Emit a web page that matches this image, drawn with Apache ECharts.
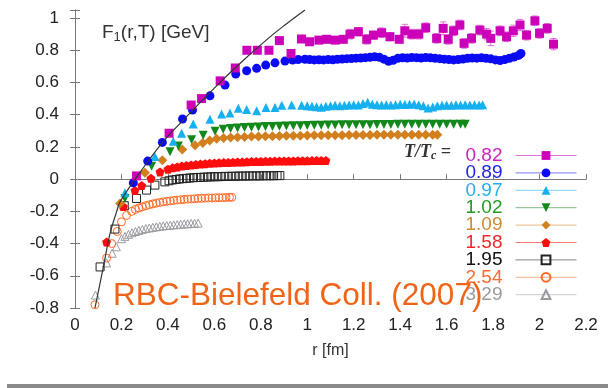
<!DOCTYPE html>
<html><head><meta charset="utf-8">
<script src="https://cdn.jsdelivr.net/npm/echarts@6/dist/echarts.min.js"></script>
<style>html,body{margin:0;padding:0;background:#fff}#c{width:608px;height:388px}</style>
</head><body><div id="c"></div>
<script>
// ---------- data ----------
const legendNames = ['0.82','0.89','0.97','1.02','1.09','1.58','1.95','2.54','3.29'];
const xTicks = [0,0.2,0.4,0.6,0.8,1,1.2,1.4,1.6,1.8,2,2.2];
const yTicks = [-0.8,-0.6,-0.4,-0.2,0,0.2,0.4,0.6,0.8,1];

const r082 = [0.265,0.405,0.50,0.545,0.625,0.69,0.74,0.785,0.835,0.88,0.93,0.975,1.01,1.05,1.083,1.12,1.155,1.184,1.22,1.256,1.285,1.32,1.356,1.396,1.42,1.45,1.48,1.51,1.557,1.585,1.607,1.63,1.657,1.675,1.707,1.743,1.772,1.79,1.83,1.858,1.887,1.916,1.944,1.98,2.0,2.033,2.06];
const F082 = [0.02,0.285,0.46,0.50,0.61,0.69,0.80,0.80,0.80,0.86,0.78,0.87,0.853,0.863,0.868,0.863,0.868,0.90,0.915,0.868,0.894,0.909,0.884,0.868,0.921,0.90,0.90,0.94,0.874,0.936,0.868,0.921,0.957,0.843,0.874,0.925,0.90,0.874,0.921,0.884,0.921,0.957,0.894,0.983,0.905,0.936,0.838];
const E082 = [0.01,0.01,0.01,0.01,0.012,0.012,0.015,0.015,0.015,0.015,0.015,0.02,0.02,0.02,0.02,0.02,0.02,0.03,0.025,0.03,0.025,0.03,0.025,0.02,0.04,0.03,0.03,0.03,0.03,0.04,0.03,0.03,0.03,0.03,0.03,0.03,0.035,0.045,0.03,0.03,0.035,0.035,0.03,0.03,0.03,0.03,0.035];

const r089 = [0.251,0.313,0.376,0.463,0.506,0.581,0.646,0.692,0.739,0.782,0.821,0.861,0.904,0.937,0.961,0.99,1.01,1.03,1.05,1.07,1.09,1.11,1.13,1.15,1.17,1.19,1.21,1.23,1.25,1.27,1.29,1.31,1.33,1.35,1.37,1.39,1.41,1.43,1.45,1.47,1.49,1.51,1.53,1.55,1.57,1.59,1.61,1.63,1.65,1.67,1.69,1.71,1.73,1.75,1.77,1.79,1.81,1.83,1.85,1.87,1.89,1.91,1.92];
const F089 = [-0.023,0.112,0.228,0.373,0.429,0.517,0.584,0.652,0.673,0.688,0.708,0.722,0.733,0.739,0.743,0.744,0.742,0.740,0.741,0.740,0.742,0.741,0.744,0.746,0.748,0.749,0.751,0.752,0.754,0.756,0.760,0.757,0.745,0.732,0.738,0.750,0.753,0.752,0.755,0.754,0.752,0.755,0.753,0.750,0.748,0.745,0.743,0.740,0.742,0.746,0.750,0.752,0.751,0.753,0.750,0.747,0.740,0.736,0.742,0.750,0.758,0.768,0.780];

const r097 = [0.215,0.344,0.423,0.459,0.509,0.581,0.631,0.667,0.703,0.739,0.782,0.822,0.861,0.89,0.933,0.976,1.00,1.02,1.04,1.06,1.08,1.10,1.12,1.14,1.16,1.18,1.20,1.22,1.24,1.26,1.28,1.30,1.32,1.34,1.36,1.38,1.40,1.42,1.44,1.46,1.48,1.50,1.52,1.54,1.56,1.58,1.60,1.62,1.64,1.66,1.68,1.70,1.72,1.74,1.755];
const F097 = [-0.085,0.14,0.235,0.285,0.342,0.372,0.404,0.41,0.44,0.433,0.424,0.445,0.445,0.458,0.46,0.458,0.455,0.452,0.450,0.447,0.452,0.455,0.458,0.456,0.458,0.460,0.462,0.460,0.470,0.478,0.465,0.462,0.460,0.462,0.460,0.462,0.465,0.463,0.465,0.466,0.462,0.455,0.442,0.448,0.455,0.458,0.460,0.458,0.462,0.460,0.462,0.460,0.462,0.460,0.462];

const r102 = [0.215,0.33,0.409,0.445,0.502,0.552,0.603,0.638,0.67,0.70,0.73,0.76,0.79,0.82,0.85,0.88,0.91,0.94,0.97,1.00,1.03,1.06,1.09,1.12,1.15,1.18,1.21,1.24,1.27,1.30,1.33,1.36,1.39,1.42,1.45,1.48,1.51,1.54,1.57,1.60,1.63,1.66,1.68];
const F102 = [-0.12,0.08,0.17,0.205,0.245,0.273,0.297,0.310,0.315,0.318,0.320,0.322,0.324,0.326,0.327,0.328,0.330,0.331,0.332,0.333,0.334,0.335,0.336,0.336,0.337,0.337,0.338,0.338,0.338,0.339,0.339,0.339,0.340,0.340,0.340,0.340,0.340,0.340,0.341,0.341,0.341,0.341,0.341];

const r109 = [0.194,0.301,0.376,0.462,0.517,0.55,0.58,0.61,0.64,0.67,0.70,0.73,0.76,0.79,0.82,0.85,0.88,0.91,0.94,0.97,1.00,1.03,1.06,1.09,1.12,1.15,1.18,1.21,1.24,1.27,1.30,1.33,1.36,1.39,1.42,1.45,1.48,1.51,1.54,1.56];
const F109 = [-0.151,0.039,0.118,0.184,0.211,0.225,0.24,0.25,0.255,0.258,0.26,0.262,0.264,0.265,0.266,0.267,0.268,0.269,0.27,0.27,0.271,0.272,0.272,0.273,0.273,0.273,0.274,0.274,0.274,0.274,0.275,0.275,0.275,0.275,0.275,0.275,0.275,0.276,0.276,0.276];

const r158 = [0.136,0.208,0.258,0.287,0.327,0.366,0.40,0.42,0.44,0.46,0.48,0.50,0.52,0.54,0.56,0.58,0.60,0.62,0.64,0.66,0.68,0.70,0.72,0.74,0.76,0.78,0.80,0.82,0.84,0.86,0.88,0.90,0.92,0.94,0.96,0.98,1.00,1.02,1.04,1.06,1.08];
const F158 = [-0.39,-0.17,-0.07,-0.04,0.005,0.045,0.062,0.070,0.076,0.081,0.085,0.088,0.091,0.094,0.096,0.098,0.100,0.101,0.103,0.104,0.105,0.106,0.107,0.108,0.109,0.110,0.110,0.111,0.111,0.112,0.112,0.113,0.113,0.113,0.114,0.114,0.114,0.115,0.115,0.115,0.115];

const r195 = [0.108,0.172,0.212,0.265,0.308,0.344,0.387,0.405,0.42,0.435,0.45,0.465,0.48,0.495,0.51,0.525,0.54,0.555,0.57,0.585,0.60,0.615,0.63,0.645,0.66,0.675,0.69,0.705,0.72,0.735,0.75,0.765,0.78,0.795,0.81,0.825,0.84,0.855,0.87,0.882];
const F195 = [-0.545,-0.31,-0.165,-0.12,-0.068,-0.037,-0.017,-0.010,-0.005,-0.002,0.001,0.003,0.005,0.007,0.009,0.010,0.011,0.012,0.013,0.014,0.015,0.015,0.016,0.017,0.017,0.018,0.018,0.019,0.019,0.019,0.020,0.020,0.020,0.020,0.021,0.021,0.021,0.021,0.022,0.022];

const r254 = [0.086,0.136,0.158,0.182,0.2,0.222,0.244,0.26,0.275,0.29,0.305,0.32,0.335,0.35,0.365,0.38,0.395,0.41,0.425,0.44,0.455,0.47,0.485,0.50,0.515,0.53,0.545,0.56,0.575,0.59,0.605,0.62,0.635,0.65,0.665,0.675];
const F254 = [-0.78,-0.49,-0.40,-0.325,-0.265,-0.225,-0.20,-0.188,-0.179,-0.172,-0.165,-0.159,-0.154,-0.149,-0.145,-0.141,-0.138,-0.135,-0.132,-0.130,-0.128,-0.126,-0.124,-0.123,-0.122,-0.120,-0.119,-0.118,-0.117,-0.117,-0.116,-0.115,-0.115,-0.114,-0.113,-0.113];

const r329 = [0.088,0.136,0.16,0.178,0.2,0.215,0.23,0.245,0.26,0.275,0.29,0.305,0.32,0.335,0.35,0.365,0.38,0.395,0.41,0.425,0.44,0.455,0.47,0.485,0.50,0.515,0.53];
const F329 = [-0.72,-0.52,-0.46,-0.42,-0.37,-0.355,-0.343,-0.333,-0.325,-0.318,-0.312,-0.307,-0.303,-0.299,-0.296,-0.293,-0.290,-0.288,-0.286,-0.284,-0.282,-0.280,-0.278,-0.277,-0.275,-0.274,-0.273];

const curveR = [0.086,0.122,0.151,0.179,0.194,0.287,0.373,0.459,0.603,0.718,0.832,0.904,0.99];
const curveF = [-0.80,-0.545,-0.337,-0.203,-0.141,0.056,0.221,0.356,0.57,0.729,0.874,0.957,1.05];

// ---------- helpers ----------
const zip = (a,b) => a.map((v,i)=>[v,b[i]]);
const pentagon = 'path://M0,-1 L0.951,-0.309 L0.588,0.809 L-0.588,0.809 L-0.951,-0.309 Z';
const downTri = 'path://M-1,-0.87 L1,-0.87 L0,0.87 Z';

const seriesDefs = [
  {name:'0.82', r:r082, F:F082, color:'#cc00b8', symbol:'rect', size:9, fill:true, text:'#cc22bb'},
  {name:'0.89', r:r089, F:F089, color:'#0a0af5', symbol:'circle', size:9, fill:true, text:'#2323e6'},
  {name:'0.97', r:r097, F:F097, color:'#14b0f0', symbol:'triangle', size:9, fill:true, text:'#22aff0'},
  {name:'1.02', r:r102, F:F102, color:'#12881a', symbol:downTri, size:9, fill:true, text:'#239a23'},
  {name:'1.09', r:r109, F:F109, color:'#d27f1e', symbol:'diamond', size:10, fill:true, text:'#d08a36'},
  {name:'1.58', r:r158, F:F158, color:'#ff0d0d', symbol:pentagon, size:9, fill:true, text:'#f02828'},
  {name:'1.95', r:r195, F:F195, color:'#222222', symbol:'rect', size:8, fill:false, text:'#111111'},
  {name:'2.54', r:r254, F:F254, color:'#ff6a24', symbol:'circle', size:8, fill:false, text:'#ff6a30'},
  {name:'3.29', r:r329, F:F329, color:'#9a9aa2', symbol:'triangle', size:8, fill:false, text:'#9a9a9a'}
];

const series = [];
series.push({
  type:'custom', name:'err082', z:2,
  data: r082.map((v,i)=>[v,F082[i],E082[i]]),
  renderItem:function(params, api){
    const x=api.value(0), y=api.value(1), e=api.value(2);
    const t=api.coord([x,y+e]), b=api.coord([x,y-e]);
    const st={stroke:'#e070d8', lineWidth:1};
    return {type:'group', children:[
      {type:'line', shape:{x1:t[0],y1:t[1],x2:b[0],y2:b[1]}, style:st},
      {type:'line', shape:{x1:t[0]-3,y1:t[1],x2:t[0]+3,y2:t[1]}, style:st},
      {type:'line', shape:{x1:b[0]-3,y1:b[1],x2:b[0]+3,y2:b[1]}, style:st}
    ]};
  }
});
seriesDefs.slice().reverse().forEach(d=>{
  series.push({
    type:'line', name:d.name, data:zip(d.r,d.F),
    symbol:d.symbol, symbolSize:d.size, showSymbol:true, showAllSymbol:true,
    lineStyle:{opacity:0, color:d.color, width:1},
    itemStyle: d.fill ? {color:d.color} : {color:'rgba(255,255,255,0)', borderColor:d.color, borderWidth:1},
    emphasis:{disabled:true}, animation:false, z:3
  });
});
series.push({
  type:'line', name:'fit', data:zip(curveR,curveF), smooth:0.4, symbol:'none',
  lineStyle:{color:'#333', width:1.2}, z:5, animation:false
});

const option = {
  animation:false,
  textStyle:{fontFamily:'Liberation Sans, Arial, sans-serif'},
  title:{
    text:'F{s|1}(r,T) [GeV]', left:97, top:17,
    textStyle:{fontSize:19, fontWeight:'normal', color:'#333', fontFamily:'Liberation Sans, Arial, sans-serif',
      rich:{s:{fontSize:13, verticalAlign:'bottom', padding:[9,0,0,0], color:'#333'}}}
  },
  grid:{left:75, right:22, top:10, bottom:80},
  xAxis:[{
    type:'value', min:0, max:2.2, interval:0.2,
    axisLine:{lineStyle:{color:'#777'}},
    axisTick:{inside:true, length:5, lineStyle:{color:'#777'}},
    axisLabel:{fontSize:17, color:'#222', margin:9},
    splitLine:{show:false},
    name:'r [fm]', nameLocation:'middle', nameGap:35,
    nameTextStyle:{fontSize:16, color:'#333'}
  },{
    type:'value', min:0, max:2.2, position:'top',
    axisLine:{show:true, lineStyle:{color:'#777'}}, axisTick:{show:false}, axisLabel:{show:false}, splitLine:{show:false}
  }],
  yAxis:[{
    type:'value', min:-0.8, max:1.05, interval:0.2,
    axisLine:{show:true, lineStyle:{color:'#777'}},
    axisTick:{inside:true, length:5, lineStyle:{color:'#777'}},
    axisLabel:{fontSize:17, color:'#222', margin:16,
      formatter:function(v){ return Math.abs(Math.round(v*5)-v*5)<1e-6 ? String(+v.toFixed(1)) : ''; }},
    splitLine:{show:false}
  },{
    type:'value', min:-0.8, max:1.05, interval:0.2, position:'right',
    axisLine:{show:true, lineStyle:{color:'#777'}},
    axisTick:{inside:true, length:5, lineStyle:{color:'#777'}},
    axisLabel:{show:false}, splitLine:{show:false}
  }],
  legend:{
    orient:'vertical', right:26, top:141, align:'right',
    itemWidth:61, itemHeight:11, itemGap:-1.6,
    selectedMode:false,
    lineStyle:{opacity:0.55, width:1},
    textStyle:{fontSize:19, lineHeight:17.5, padding:[0,8,0,0], fontFamily:'Liberation Sans, Arial, sans-serif'},
    data: seriesDefs.map(d=>({name:d.name, textStyle:{color:d.text}}))
  },
  graphic:[
    {type:'text', left:404, top:143, z:50,
      style:{text:'{t|T/T}{c|c}{t| =}', rich:{
        t:{fontSize:18, fontStyle:'italic', fontWeight:'bold', fontFamily:'Liberation Serif, DejaVu Serif, serif', fill:'#333'},
        c:{fontSize:12, fontStyle:'italic', fontWeight:'bold', fontFamily:'Liberation Serif, DejaVu Serif, serif', fill:'#333', padding:[8,0,0,0]}
      }}},
    {type:'text', x:113, y:296, z:100,
      style:{text:'RBC-Bielefeld Coll. (2007)', fill:'#f06418', fontSize:31.5,
        fontFamily:'Liberation Sans, Arial, sans-serif', verticalAlign:'middle'}},
    {type:'rect', shape:{x:7, y:384, width:601, height:4}, style:{fill:'#8a8a8a'}}
  ],
  series: series
};
const chart = echarts.init(document.getElementById('c'), null, {renderer:'canvas'});
chart.setOption(option);
</script></body></html>
